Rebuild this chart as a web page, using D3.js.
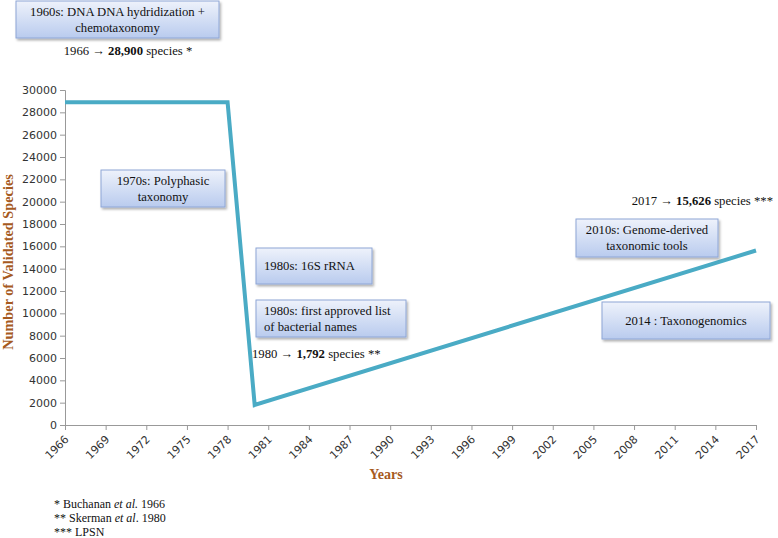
<!DOCTYPE html>
<html>
<head>
<meta charset="utf-8">
<script src="https://cdn.jsdelivr.net/npm/d3@7"></script>
<style>
  body { margin: 0; background: #fff; }
  svg { display: block; }
</style>
</head>
<body>
<svg id="chart" width="778" height="538"></svg>
<script>
// ---- data ----
const years = [1966, 1978, 1980, 2017];
const species = [28900, 28900, 1792, 15626];
const xTickYears = [1966, 1969, 1972, 1975, 1978, 1981, 1984, 1987, 1990, 1993, 1996, 1999, 2002, 2005, 2008, 2011, 2014, 2017];
const yTickValues = [0, 2000, 4000, 6000, 8000, 10000, 12000, 14000, 16000, 18000, 20000, 22000, 24000, 26000, 28000, 30000];
const boxTexts = [
  ["1960s: DNA DNA hydridization +", "chemotaxonomy"],
  ["1970s: Polyphasic", "taxonomy"],
  ["1980s: 16S rRNA"],
  ["1980s: first approved list", "of bacterial names"],
  ["2010s: Genome-derived", "taxonomic tools"],
  ["2014 : Taxonogenomics"]
];
const countNotes = [
  {pre: "1966 \u2192 ", bold: "28,900", post: " species *"},
  {pre: "1980 \u2192  ", bold: "1,792", post: " species **"},
  {pre: "2017 \u2192 ", bold: "15,626", post: " species ***"}
];
const footnotes = [
  [{t: "* Buchanan "}, {t: "et al.", i: true}, {t: " 1966"}],
  [{t: "** Skerman "}, {t: "et al", i: true}, {t: ". 1980"}],
  [{t: "*** LPSN"}]
];

// ---- layout ----
const svg = d3.select("#chart");
const x = d3.scaleLinear().domain([1966, 2017]).range([65, 756]);
const y = d3.scaleLinear().domain([0, 30000]).range([425, 90]);
const serif = "'Liberation Serif', 'Times New Roman', serif";
const sans = "'DejaVu Sans', sans-serif";
const brown = "#a65a1e";
const fs = 12.7;

// gradient for boxes
const defs = svg.append("defs");
const grad = defs.append("linearGradient").attr("id", "boxgrad")
  .attr("x1", 0).attr("y1", 0).attr("x2", 0).attr("y2", 1);
grad.append("stop").attr("offset", "0%").attr("stop-color", "#eef2fb");
grad.append("stop").attr("offset", "100%").attr("stop-color", "#b9cbee");
const filt = defs.append("filter").attr("id", "shadow").attr("x", "-10%").attr("y", "-10%").attr("width", "130%").attr("height", "140%");
filt.append("feDropShadow").attr("dx", 1.5).attr("dy", 2).attr("stdDeviation", 1.2).attr("flood-color", "#000").attr("flood-opacity", 0.3);

// axes
const yAxis = d3.axisLeft(y).tickValues(yTickValues).tickSize(5).tickPadding(3).tickFormat(d3.format("d"));
const gy = svg.append("g").attr("transform", "translate(65,0)").call(yAxis);
gy.selectAll("text").attr("font-family", sans).attr("font-size", 11).attr("fill", "#333");
gy.selectAll("line, path").attr("stroke", "#999");

const xAxis = d3.axisBottom(x).tickValues(xTickYears).tickSize(5).tickFormat(d3.format("d"));
const gx = svg.append("g").attr("transform", "translate(0,425)").call(xAxis);
gx.selectAll("line, path").attr("stroke", "#999");
gx.selectAll("text")
  .attr("font-family", sans).attr("font-size", 11).attr("fill", "#333")
  .attr("text-anchor", "end")
  .attr("dy", 0).attr("y", 0)
  .attr("transform", "translate(4,15) rotate(-45)");

// axis titles
svg.append("text")
  .attr("transform", "translate(8,262) rotate(-90)")
  .attr("text-anchor", "middle").attr("dy", "0.35em")
  .attr("font-family", serif).attr("font-weight", "bold").attr("font-size", 14.3)
  .attr("fill", brown).text("Number of Validated Species");
svg.append("text")
  .attr("x", 386).attr("y", 479).attr("text-anchor", "middle")
  .attr("font-family", serif).attr("font-weight", "bold").attr("font-size", 14)
  .attr("fill", brown).text("Years");

// line
const pts = years.map((yr, i) => [yr, species[i]]);
svg.append("path")
  .datum(pts)
  .attr("fill", "none")
  .attr("stroke", "#4aabc5")
  .attr("stroke-width", 4)
  .attr("stroke-linejoin", "miter")
  .attr("d", d3.line().x(d => x(d[0])).y(d => y(d[1])));

// annotation boxes
const boxLayout = [
  {x: 16, y: 1, w: 203, h: 37, align: "middle"},
  {x: 101, y: 170, w: 124, h: 37, align: "middle"},
  {x: 256, y: 248, w: 116, h: 36, align: "start"},
  {x: 256, y: 300, w: 150, h: 37, align: "start"},
  {x: 576, y: 219, w: 142, h: 38, align: "middle"},
  {x: 602, y: 302, w: 168, h: 37, align: "middle"}
];
boxTexts.forEach((lines, i) => {
  const b = boxLayout[i];
  const g = svg.append("g");
  g.append("rect").attr("x", b.x).attr("y", b.y).attr("width", b.w).attr("height", b.h)
    .attr("fill", "url(#boxgrad)").attr("stroke", "#8ea6d6").attr("stroke-width", 1)
    .attr("filter", "url(#shadow)");
  const lh = 16;
  const startY = b.y + b.h / 2 - (lines.length - 1) * lh / 2;
  lines.forEach((ln, j) => {
    g.append("text")
      .attr("x", b.align === "middle" ? b.x + b.w / 2 : b.x + 8)
      .attr("y", startY + j * lh).attr("dy", "0.35em")
      .attr("text-anchor", b.align)
      .attr("font-family", serif).attr("font-size", fs).attr("fill", "#111")
      .text(ln);
  });
});

// count notes
const noteLayout = [
  {x: 128, y: 55, anchor: "middle"},
  {x: 252, y: 358, anchor: "start"},
  {x: 773, y: 205, anchor: "end"}
];
countNotes.forEach((n, i) => {
  const L = noteLayout[i];
  const t = svg.append("text").attr("x", L.x).attr("y", L.y).attr("text-anchor", L.anchor)
    .attr("font-family", serif).attr("font-size", fs).attr("fill", "#111");
  t.append("tspan").text(n.pre);
  t.append("tspan").attr("font-weight", "bold").text(n.bold);
  t.append("tspan").text(n.post);
});

// footnotes
footnotes.forEach((parts, i) => {
  const t = svg.append("text").attr("x", 54).attr("y", 508 + i * 14)
    .attr("font-family", serif).attr("font-size", 12).attr("fill", "#111");
  parts.forEach(p => {
    const s = t.append("tspan").text(p.t);
    if (p.i) s.attr("font-style", "italic");
  });
});
</script>
</body>
</html>
